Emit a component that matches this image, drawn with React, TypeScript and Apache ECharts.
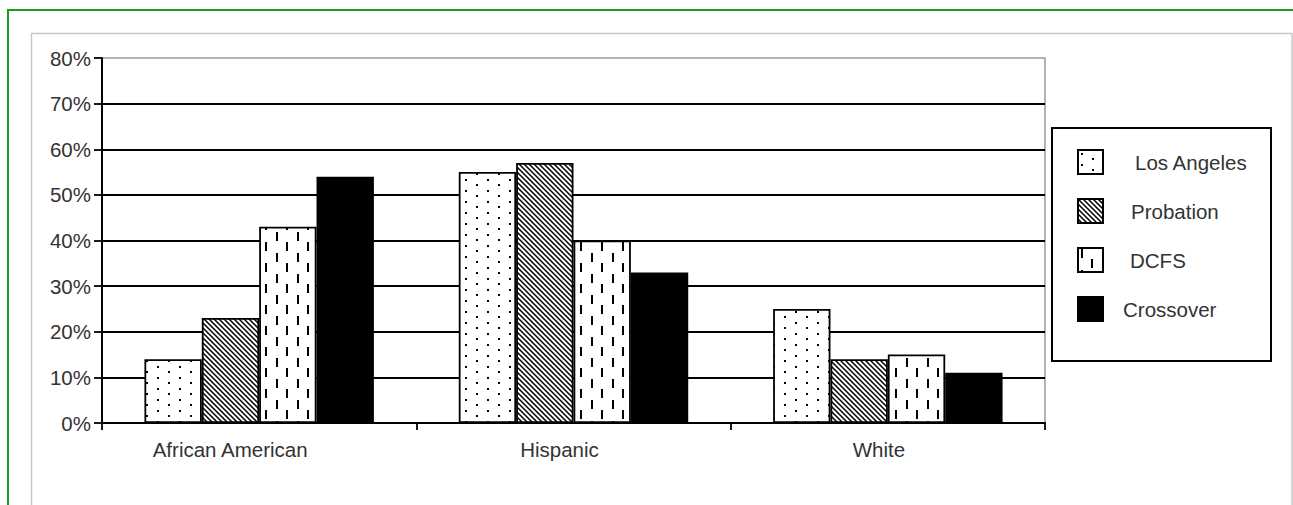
import React, { useEffect, useRef } from "react";
import * as echarts from "echarts";

const categories = ["African American", "Hispanic", "White"];
const seriesNames = ["Los Angeles", "Probation", "DCFS", "Crossover"];
const losAngeles = [14, 55, 25];
const probation = [23, 57, 14];
const dcfs = [43, 40, 15];
const crossover = [54, 33, 11];
const yMin = 0;
const yMax = 80;
const yInterval = 10;

const FONT = "'Liberation Sans', Arial, sans-serif";
const TEXT_COLOR = "#333";
const FS = 20.5;

function makeTile(w: number, h: number, draw: (ctx: CanvasRenderingContext2D) => void) {
  const c = document.createElement("canvas");
  c.width = w;
  c.height = h;
  const ctx = c.getContext("2d") as CanvasRenderingContext2D;
  ctx.fillStyle = "#fff";
  ctx.fillRect(0, 0, w, h);
  ctx.fillStyle = "#000";
  ctx.strokeStyle = "#000";
  draw(ctx);
  return { image: c, repeat: "repeat" } as any;
}

export default function App() {
  const ref = useRef<HTMLDivElement>(null);
  useEffect(() => {
    if (!ref.current) return;
    const chart = echarts.init(ref.current, undefined, { renderer: "svg" });

    const dots = makeTile(22, 22, (ctx) => {
      ctx.fillRect(3, 3, 2, 2);
      ctx.fillRect(14, 8, 2, 2);
      ctx.fillRect(3, 14, 2, 2);
      ctx.fillRect(14, 19, 2, 2);
    });
    const hatch = makeTile(5, 5, (ctx) => {
      ctx.lineWidth = 1.5;
      ctx.beginPath();
      ctx.moveTo(-1, -1);
      ctx.lineTo(6, 6);
      ctx.moveTo(-1, 4);
      ctx.lineTo(1, 6);
      ctx.moveTo(4, -1);
      ctx.lineTo(6, 1);
      ctx.stroke();
    });
    const dashes = makeTile(21, 21, (ctx) => {
      ctx.fillRect(3, 1, 2, 9);
      ctx.fillRect(13, 11, 2, 9);
    });
    const fills = [dots, hatch, dashes, "#000"];
    const values = [losAngeles, probation, dcfs, crossover];

    const catPad = [58, 28, 18];
    const legPad = [27, 23, 22, 15];
    const baseText = { fontFamily: FONT, fontSize: FS, color: TEXT_COLOR };

    const xRich: any = {};
    catPad.forEach((p, i) => {
      xRich["c" + i] = { ...baseText, padding: [0, p, 0, 0] };
    });
    const legRich: any = {};
    legPad.forEach((p, i) => {
      legRich["l" + i] = { ...baseText, padding: [0, 0, 0, p], lineHeight: 24 };
    });

    chart.setOption({
      animation: false,
      backgroundColor: "#fff",
      graphic: [
        {
          type: "rect",
          silent: true,
          shape: { x: 8, y: 10, width: 1300, height: 600 },
          style: { fill: "none", stroke: "#1d9b1d", lineWidth: 2 },
        },
        {
          type: "rect",
          silent: true,
          shape: { x: 31.5, y: 33.5, width: 1260.5, height: 600 },
          style: { fill: "none", stroke: "#c8c8c8", lineWidth: 1.5 },
        },
        {
          type: "rect",
          silent: true,
          shape: { x: 1052, y: 128, width: 219, height: 233 },
          style: { fill: "#fff", stroke: "#000", lineWidth: 2 },
        },
      ],
      grid: {
        left: 102,
        right: 248,
        top: 58,
        bottom: 82,
        show: true,
        borderColor: "#9a9a9a",
        borderWidth: 1.5,
        backgroundColor: "transparent",
      },
      legend: {
        orient: "vertical",
        left: 1077,
        top: 149,
        padding: 0,
        itemWidth: 25,
        itemHeight: 24,
        itemGap: 23,
        icon: "rect",
        itemStyle: { borderColor: "#000", borderWidth: 2 },
        data: seriesNames,
        formatter: (name: string) => `{l${seriesNames.indexOf(name)}|${name}}`,
        textStyle: { ...baseText, rich: legRich },
      },
      xAxis: {
        type: "category",
        data: categories,
        axisLine: { show: true, lineStyle: { color: "#000", width: 2 } },
        axisTick: { show: true, length: 7, lineStyle: { color: "#000", width: 1.8 } },
        axisLabel: {
          ...baseText,
          margin: 16,
          interval: 0,
          formatter: (v: string) => `{c${categories.indexOf(v)}|${v}}`,
          rich: xRich,
        },
        splitLine: { show: false },
      },
      yAxis: {
        type: "value",
        min: yMin,
        max: yMax,
        interval: yInterval,
        axisLine: { show: true, lineStyle: { color: "#000", width: 2 } },
        axisTick: { show: true, length: 8, lineStyle: { color: "#000", width: 1.8 } },
        axisLabel: { ...baseText, margin: 11, formatter: "{value}%" },
        splitLine: {
          show: true,
          showMaxLine: false,
          lineStyle: { color: "#000", width: 1.8 },
        },
      },
      series: seriesNames.map((name, i) => ({
        name,
        type: "bar",
        data: values[i],
        barGap: "0%",
        barCategoryGap: "27%",
        itemStyle: { color: fills[i], borderColor: "#000", borderWidth: 1.8 },
      })),
    });

    return () => chart.dispose();
  }, []);

  return (
    <div
      ref={ref}
      style={{ position: "fixed", left: 0, top: 0, width: 1293, height: 505, background: "#fff" }}
    />
  );
}
